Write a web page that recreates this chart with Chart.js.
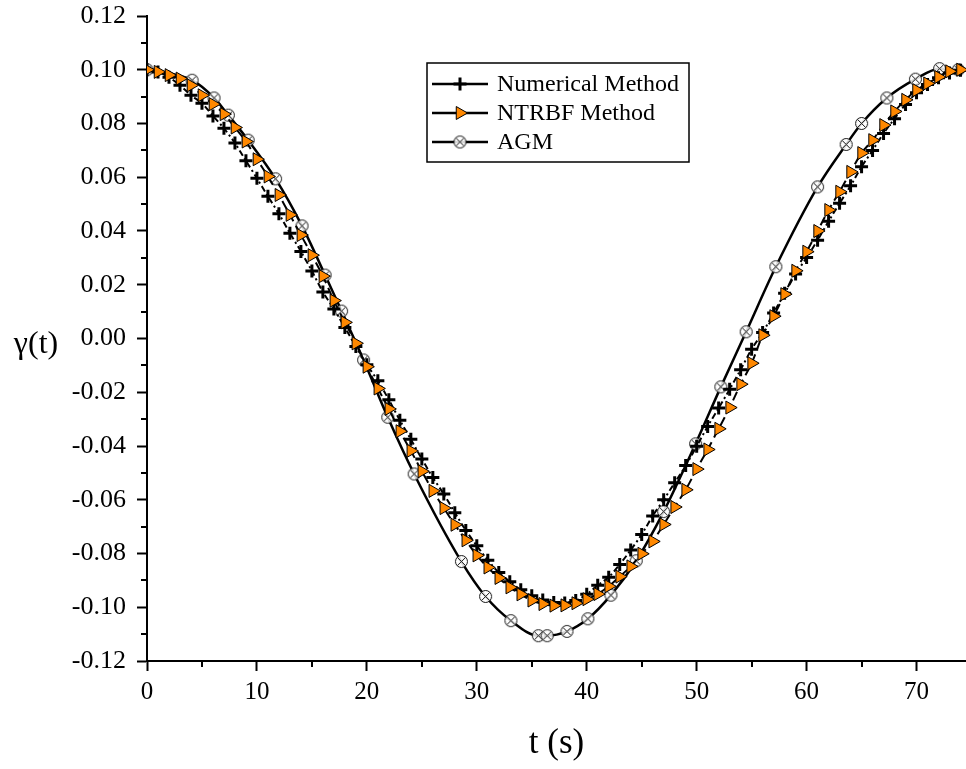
<!DOCTYPE html>
<html><head><meta charset="utf-8">
<script src="https://cdn.jsdelivr.net/npm/chart.js@4.4.0/dist/chart.umd.min.js"></script>
<style>html,body{margin:0;padding:0;background:#fff;overflow:hidden}#wrap{width:966px;height:769px;position:relative}</style>
</head><body><div id="wrap"><canvas id="c" width="966" height="769"></canvas></div>
<script>
// ---- data ----
const timeSteps = [0,1,2,3,4,5,6,7,8,9,10,11,12,13,14,15,16,17,18,19,20,21,22,23,24,25,26,27,28,29,30,31,32,33,34,35,36,37,38,39,40,41,42,43,44,45,46,47,48,49,50,51,52,53,54,55,56,57,58,59,60,61,62,63,64,65,66,67,68,69,70,71,72,73,74];
const numericalValues = [0.1000,0.0992,0.0972,0.0942,0.0905,0.0875,0.0828,0.0782,0.0727,0.0661,0.0596,0.0529,0.0464,0.0392,0.0324,0.0251,0.0173,0.0110,0.0041,-0.0030,-0.0098,-0.0157,-0.0228,-0.0304,-0.0375,-0.0448,-0.0517,-0.0579,-0.0648,-0.0714,-0.0771,-0.0825,-0.0871,-0.0905,-0.0935,-0.0957,-0.0973,-0.0982,-0.0984,-0.0975,-0.0952,-0.0918,-0.0888,-0.0841,-0.0787,-0.0729,-0.0660,-0.0600,-0.0537,-0.0473,-0.0401,-0.0327,-0.0259,-0.0189,-0.0116,-0.0040,0.0022,0.0095,0.0168,0.0240,0.0301,0.0366,0.0436,0.0503,0.0568,0.0639,0.0700,0.0763,0.0818,0.0871,0.0914,0.0945,0.0970,0.0988,0.0998];
const ntrbfValues = [0.1000,0.0992,0.0980,0.0967,0.0942,0.0905,0.0872,0.0835,0.0785,0.0733,0.0667,0.0603,0.0534,0.0460,0.0385,0.0310,0.0232,0.0141,0.0060,-0.0018,-0.0105,-0.0186,-0.0262,-0.0345,-0.0418,-0.0494,-0.0567,-0.0631,-0.0693,-0.0751,-0.0807,-0.0852,-0.0891,-0.0926,-0.0952,-0.0975,-0.0988,-0.0994,-0.0993,-0.0985,-0.0970,-0.0951,-0.0922,-0.0886,-0.0848,-0.0801,-0.0755,-0.0692,-0.0627,-0.0563,-0.0486,-0.0413,-0.0336,-0.0257,-0.0170,-0.0092,0.0012,0.0083,0.0165,0.0252,0.0323,0.0400,0.0478,0.0546,0.0620,0.0690,0.0738,0.0794,0.0845,0.0888,0.0924,0.0949,0.0973,0.0994,0.1000];
const agmTimes = [0,4.1,6.1,7.4,9.2,11.7,14.1,16.2,17.7,19.7,21.9,24.3,28.6,30.8,33.1,35.6,36.4,38.2,40.1,42.2,44.5,47.0,49.9,52.2,54.5,57.2,61.0,63.6,65.0,67.3,69.9,72.1,73.8];
const agmValues = [0.1000,0.0961,0.0895,0.0831,0.0738,0.0594,0.0419,0.0236,0.0102,-0.0080,-0.0293,-0.0504,-0.0830,-0.0960,-0.1050,-0.1106,-0.1106,-0.1090,-0.1043,-0.0955,-0.0827,-0.0644,-0.0392,-0.0180,0.0025,0.0267,0.0564,0.0722,0.0800,0.0895,0.0965,0.1004,0.1000];
const seriesNames = ['Numerical Method','NTRBF Method','AGM'];
const xTickValues = [0,10,20,30,40,50,60,70];
const xMinorTicks = [5,15,25,35,45,55,65];
const yTickValues = [-0.12,-0.10,-0.08,-0.06,-0.04,-0.02,0,0.02,0.04,0.06,0.08,0.10,0.12];
const yMinorTicks = [-0.11,-0.09,-0.07,-0.05,-0.03,-0.01,0.01,0.03,0.05,0.07,0.09,0.11];
const xTitle = 't (s)';
const yTitle = 'γ(t)';

// ---- styling ----
const ORANGE = '#FF8800';
const SERIF = '"Liberation Serif", "Times New Roman", serif';

function makeAgmMarker(){
  const c = document.createElement('canvas'); c.width = 15; c.height = 15;
  const g = c.getContext('2d');
  g.strokeStyle = '#111'; g.lineWidth = 1; g.fillStyle = 'rgba(255,255,255,0.85)';
  g.beginPath(); g.arc(7.5,7.5,6,0,Math.PI*2); g.fill(); g.stroke();
  const d = 4.2;
  g.beginPath(); g.moveTo(7.5-d,7.5-d); g.lineTo(7.5+d,7.5+d); g.moveTo(7.5+d,7.5-d); g.lineTo(7.5-d,7.5+d); g.stroke();
  return c;
}
const agmMarker = makeAgmMarker();

const pts = (xs, ys) => xs.map((x,i)=>({x, y: ys[i]}));

function drawPlus(ctx,x,y){ctx.save();ctx.strokeStyle='#000';ctx.lineWidth=3;ctx.beginPath();ctx.moveTo(x-6.5,y);ctx.lineTo(x+6.5,y);ctx.moveTo(x,y-6.5);ctx.lineTo(x,y+6.5);ctx.stroke();ctx.restore();}
function drawTri(ctx,x,y){const r=7.5;ctx.save();ctx.fillStyle=ORANGE;ctx.strokeStyle='#000';ctx.lineWidth=1;ctx.beginPath();ctx.moveTo(x+r,y);ctx.lineTo(x-r/2,y-r*0.866);ctx.lineTo(x-r/2,y+r*0.866);ctx.closePath();ctx.fill();ctx.stroke();ctx.restore();}

const decor = {
  id:'decor',
  afterDraw(chart){
    const ctx = chart.ctx, xs = chart.scales.x, ys = chart.scales.y, a = chart.chartArea;
    ctx.save();
    ctx.strokeStyle = '#000'; ctx.lineWidth = 2;
    ctx.beginPath();
    yMinorTicks.forEach(v=>{const p = Math.round(ys.getPixelForValue(v)); ctx.moveTo(a.left-6,p); ctx.lineTo(a.left,p);});
    xMinorTicks.forEach(v=>{const p = Math.round(xs.getPixelForValue(v)); ctx.moveTo(p,a.bottom); ctx.lineTo(p,a.bottom+6);});
    ctx.stroke();
    // y title (horizontal)
    ctx.fillStyle = '#000';
    ctx.font = '32px ' + SERIF;
    ctx.textAlign = 'center'; ctx.textBaseline = 'middle';
    ctx.fillText(yTitle, 36, 345);
    // legend box
    const bx = 427, by = 63, bw = 262, bh = 99;
    ctx.lineWidth = 1.5; ctx.strokeStyle = '#000';
    ctx.strokeRect(bx, by, bw, bh);
    const rows = [84, 113, 142];
    ctx.font = '24px ' + SERIF; ctx.textAlign = 'left';
    rows.forEach((ry,i)=>{
      ctx.lineWidth = 2.5; ctx.strokeStyle = '#000'; ctx.setLineDash([]);
      ctx.beginPath(); ctx.moveTo(432,ry); ctx.lineTo(488,ry); ctx.stroke();
      if(i===0) drawPlus(ctx,460,ry);
      else if(i===1) drawTri(ctx,460,ry);
      else ctx.drawImage(agmMarker, 460-7.5, ry-7.5);
      ctx.fillStyle = '#000';
      ctx.fillText(seriesNames[i], 497, ry+1);
    });
    ctx.restore();
  }
};

new Chart(document.getElementById('c'), {
  type:'line',
  data:{
    datasets:[
      {label:seriesNames[1], data:pts(timeSteps, ntrbfValues), order:0,
       borderColor:'#000', borderWidth:2, borderDash:[9,5], tension:0.3,
       pointStyle:'triangle', rotation:90, pointRadius:7.5, pointBackgroundColor:ORANGE, pointBorderColor:'#000', pointBorderWidth:1},
      {label:seriesNames[0], data:pts(timeSteps, numericalValues), order:1,
       borderColor:'#000', borderWidth:2, borderDash:[6,3,2,3], tension:0.3,
       pointStyle:'cross', pointRadius:6.5, pointBorderColor:'#000', pointBorderWidth:3},
      {label:seriesNames[2], data:pts(agmTimes, agmValues), order:2,
       borderColor:'#000', borderWidth:2.5, cubicInterpolationMode:'monotone',
       pointStyle:agmMarker, pointRadius:6}
    ]
  },
  options:{
    responsive:false, animation:false, events:[],
    layout:{autoPadding:false, padding:{left:0,top:16,right:0,bottom:0}},
    plugins:{legend:{display:false}, tooltip:{enabled:false}},
    scales:{
      x:{type:'linear', min:0, max:74.5,
         afterBuildTicks:s=>{s.ticks = xTickValues.map(v=>({value:v}));},
         afterFit:s=>{s.height = 108; s.paddingLeft = 0; s.paddingRight = 0;},
         border:{display:true,color:'#000',width:2},
         grid:{drawOnChartArea:false, drawTicks:true, tickLength:10, tickWidth:2, tickColor:'#000'},
         ticks:{color:'#000', padding:6, font:{family:SERIF, size:25}, maxRotation:0, callback:v=>String(v)},
         title:{display:true, text:xTitle, color:'#000', font:{family:SERIF, size:35}, padding:{top:0,bottom:4}}
      },
      y:{type:'linear', min:-0.12, max:0.12,
         afterBuildTicks:s=>{s.ticks = yTickValues.map(v=>({value:v}));},
         afterFit:s=>{s.width = 147; s.paddingTop = 0; s.paddingBottom = 0;},
         border:{display:true,color:'#000',width:2},
         grid:{drawOnChartArea:false, drawTicks:true, tickLength:10, tickWidth:2, tickColor:'#000'},
         ticks:{color:'#000', padding:11, font:{family:SERIF, size:26}, callback:v=>(Math.abs(v)<1e-9?0:v).toFixed(2)}
      }
    }
  },
  plugins:[decor]
});
</script></body></html>
